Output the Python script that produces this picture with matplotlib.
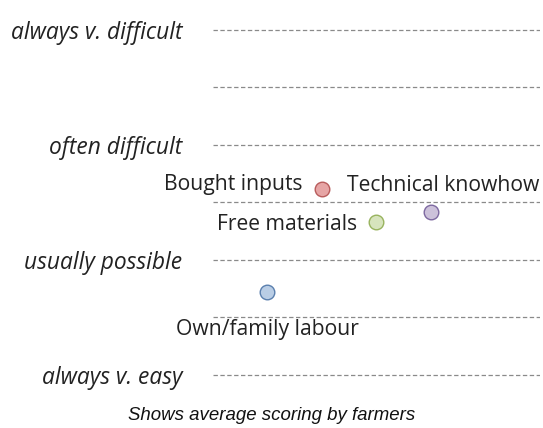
import matplotlib.pyplot as plt

# scale: 1 = always v. easy ... 4 = always v. difficult
level_values = [1, 1.5, 2, 2.5, 3, 3.5, 4]
level_labels = ['always v. easy', '', 'usually possible', '', 'often difficult', '', 'always v. difficult']

resources = ['Own/family labour', 'Bought inputs', 'Free materials', 'Technical knowhow']
positions = [1, 2, 3, 4]
scores = [1.72, 2.62, 2.33, 2.42]
fill_colors = ['#b9cde5', '#e6a5a5', '#d7e4bd', '#ccc1da']
edge_colors = ['#5a7fae', '#b85c5c', '#98b35e', '#7d68a0']

# label placement (offset in points, alignment)
label_offsets = [(0, -27, 'center'), (-14, 3, 'right'), (-14, -2, 'right'), (-60, 19, 'left')]

fig = plt.figure(figsize=(5.43, 4.28), dpi=100)
ax = fig.add_axes([0.392, 0.097, 0.602, 0.860])

for y in level_values:
    ax.axhline(y, color='#8a8a8a', linewidth=0.9, linestyle=(0, (3.5, 2)), zorder=1)

for x, y, fc, ec in zip(positions, scores, fill_colors, edge_colors):
    ax.plot(x, y, 'o', markersize=10.5, markerfacecolor=fc, markeredgecolor=ec,
            markeredgewidth=1.0, zorder=3)

for name, x, y, (dx, dy, ha) in zip(resources, positions, scores, label_offsets):
    ax.annotate(name, (x, y), xytext=(dx, dy), textcoords='offset points',
                ha=ha, va='center', fontsize=15.2, family='Open Sans', color='#222222')

ax.set_xlim(0, 6)
ax.set_ylim(0.9, 4.1)
ax.set_yticks(level_values)
ax.set_yticklabels(level_labels, fontsize=16.4, family='Open Sans', style='italic', color='#222222')
ax.tick_params(axis='y', length=0, pad=22)
ax.set_xticks([])
for s in ax.spines.values():
    s.set_visible(False)

fig.text(0.501, 0.029, 'Shows average scoring by farmers', ha='center', va='center',
         fontsize=13.4, family='Liberation Sans', style='italic', color='#111111')

plt.savefig('out.png', dpi=100)
